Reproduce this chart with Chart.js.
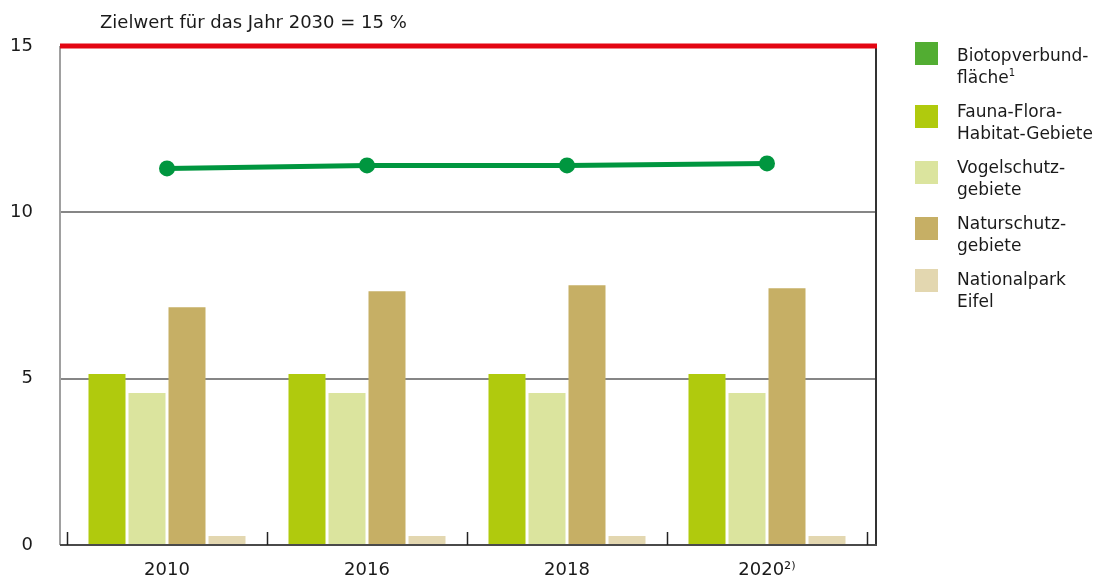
<!DOCTYPE html>
<html>
<head>
<meta charset="utf-8">
<script src="https://cdn.jsdelivr.net/npm/chart.js@4/dist/chart.umd.min.js"></script>
<style>
  body { margin: 0; background: #fff; overflow: hidden; }
  #wrap { position: relative; width: 1096px; height: 576px; font-family: "DejaVu Sans", sans-serif; color: #1a1a1a; }
  #chart { display: block; width: 1096px; height: 576px; }
  #legend { position: absolute; left: 915px; top: 42px; }
  .item { position: relative; height: 56px; }
  .box { position: absolute; left: 0; top: 0; width: 23px; height: 23px; }
  .item:nth-child(2) .box, .item:nth-child(3) .box, .item:nth-child(4) .box { top: 7px; }
  .item:nth-child(5) .box { top: 3px; }
  .txt { position: absolute; left: 42px; top: 2px; font-size: 17px; line-height: 22px; white-space: nowrap; }
  .txt sup { font-size: 10px; vertical-align: 7px; line-height: 0; }
</style>
</head>
<body>
<div id="wrap">
  <canvas id="chart" width="1096" height="576"></canvas>
  <div id="legend"></div>
</div>
<script>
const years = ['2010', '2016', '2018', '2020\u00b2\u207e'];
const biotop = [11.32, 11.41, 11.41, 11.47];
const ffh = [5.14, 5.14, 5.14, 5.14];
const vogel = [4.57, 4.57, 4.57, 4.57];
const natur = [7.15, 7.63, 7.81, 7.72];
const nationalpark = [0.27, 0.27, 0.27, 0.27];
const target = 15;
const yTicks = [0, 5, 10, 15];
const gridValues = [5, 10];

// legend texts, one array per entry (lines)
const legendLines = [
  ['Biotopverbund-', 'fläche<sup>1</sup>'],
  ['Fauna-Flora-', 'Habitat-Gebiete'],
  ['Vogelschutz-', 'gebiete'],
  ['Naturschutz-', 'gebiete'],
  ['Nationalpark', 'Eifel']
];
const legendColors = ['#52ad32', '#b0ca0d', '#dbe49e', '#c6af65', '#e3d7b0'];

const legendEl = document.getElementById('legend');
legendLines.forEach((lines, i) => {
  const it = document.createElement('div');
  it.className = 'item';
  it.innerHTML = `<div class="box" style="background:${legendColors[i]}"></div><div class="txt">${lines.join('<br>')}</div>`;
  legendEl.appendChild(it);
});

const font = { family: '"DejaVu Sans", sans-serif', size: 18 };

const framePlugin = {
  id: 'frame',
  beforeDatasetsDraw(chart) {
    const { ctx, chartArea: a, scales: { y } } = chart;
    const l = a.left - 7, r = a.right + 9;
    ctx.save();
    ctx.lineWidth = 1.5;
    ctx.strokeStyle = '#5e5e5e';
    gridValues.forEach(v => {
      const py = Math.round(y.getPixelForValue(v));
      ctx.beginPath(); ctx.moveTo(l, py); ctx.lineTo(r, py); ctx.stroke();
    });
    ctx.lineWidth = 2;
    ctx.strokeStyle = '#a0a0a0';
    ctx.beginPath(); ctx.moveTo(l, a.top); ctx.lineTo(l, a.bottom); ctx.stroke();
    ctx.strokeStyle = '#333';
    ctx.beginPath(); ctx.moveTo(r, a.top); ctx.lineTo(r, a.bottom); ctx.stroke();
    ctx.restore();
  },
  afterDatasetsDraw(chart) {
    const { ctx, chartArea: a, scales: { x, y } } = chart;
    const l = a.left - 7, r = a.right + 9;
    ctx.save();
    // bottom axis
    ctx.strokeStyle = '#4a4a4a';
    ctx.lineWidth = 2;
    ctx.beginPath(); ctx.moveTo(l, a.bottom); ctx.lineTo(r + 1, a.bottom); ctx.stroke();
    // category separator ticks
    ctx.strokeStyle = '#222';
    ctx.lineWidth = 1.5;
    const n = years.length;
    for (let i = 0; i <= n; i++) {
      const px = Math.round(x.left + i * x.width / n) + 0.5;
      ctx.beginPath(); ctx.moveTo(px, a.bottom - 13); ctx.lineTo(px, a.bottom); ctx.stroke();
    }
    // target line
    const ty = y.getPixelForValue(target);
    ctx.strokeStyle = '#e30613';
    ctx.lineWidth = 5;
    ctx.beginPath(); ctx.moveTo(l, ty); ctx.lineTo(r + 1, ty); ctx.stroke();
    ctx.fillStyle = '#1a1a1a';
    ctx.font = '18px "DejaVu Sans", sans-serif';
    ctx.textBaseline = 'alphabetic';
    ctx.fillText('Zielwert für das Jahr 2030 = 15 %', 100, ty - 18);
    ctx.restore();
  }
};

new Chart(document.getElementById('chart'), {
  type: 'bar',
  data: {
    labels: years,
    datasets: [
      { type: 'line', label: 'Biotopverbundfläche', data: biotop, borderColor: '#00963f', backgroundColor: '#00963f',
        borderWidth: 5, pointRadius: 8, pointHoverRadius: 8, pointBorderWidth: 0, tension: 0, order: 0 },
      { label: 'Fauna-Flora-Habitat-Gebiete', data: ffh, backgroundColor: legendColors[1], order: 1 },
      { label: 'Vogelschutzgebiete', data: vogel, backgroundColor: legendColors[2], order: 1 },
      { label: 'Naturschutzgebiete', data: natur, backgroundColor: legendColors[3], order: 1 },
      { label: 'Nationalpark Eifel', data: nationalpark, backgroundColor: legendColors[4], order: 1 }
    ]
  },
  options: {
    responsive: false,
    maintainAspectRatio: false,
    animation: false,
    events: [],
    layout: { padding: { left: 0, right: 229, top: 46, bottom: 0 } },
    categoryPercentage: 0.8,
    barPercentage: 0.925,
    plugins: { legend: { display: false }, tooltip: { enabled: false } },
    scales: {
      x: {
        grid: { display: false },
        border: { display: false },
        ticks: { font: font, color: '#1a1a1a', padding: 7, maxRotation: 0 },
        afterFit: s => { s.height = 31; }
      },
      y: {
        min: 0, max: 15,
        afterBuildTicks: s => { s.ticks = yTicks.map(v => ({ value: v })); },
        grid: { display: false, drawTicks: true, tickLength: 30 },
        border: { display: false },
        ticks: { font: font, color: '#1a1a1a', padding: 4 },
        afterFit: s => { s.width = 67; s.paddingTop = 0; s.paddingBottom = 0; }
      }
    }
  },
  plugins: [framePlugin]
});
</script>
</body>
</html>
